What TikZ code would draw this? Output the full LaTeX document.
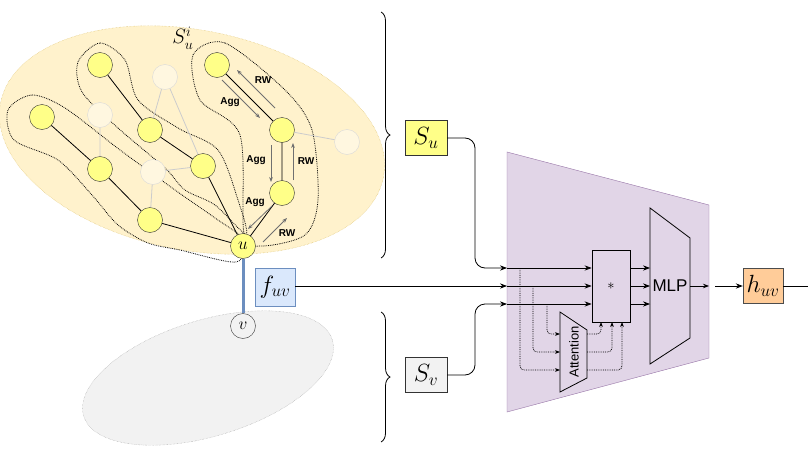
\documentclass[tikz,border=0pt]{standalone}
\usepackage{fontspec}
\setsansfont{Liberation Sans}
\usetikzlibrary{positioning,arrows.meta,decorations.pathreplacing}
\definecolor{egg}{HTML}{FFF2CC}
\definecolor{eggline}{HTML}{D6B656}
\definecolor{nodey}{HTML}{FFFF88}
\definecolor{blueb}{HTML}{DAE8FC}
\definecolor{bluel}{HTML}{6C8EBF}
\definecolor{lilac}{HTML}{E1D5E7}
\definecolor{lilacl}{HTML}{9673A6}
\definecolor{peach}{HTML}{FFCC99}
\definecolor{walk}{HTML}{707070}
\begin{document}
\begin{tikzpicture}[x=1pt,y=-1pt,
    font=\sffamily,
    gnode/.style={circle,draw=black!80,fill=nodey,minimum size=25pt,inner sep=0pt,font=\fontsize{18}{20}\selectfont},
    faint/.style={circle,draw=black!15,fill=egg!60!white,minimum size=25pt,inner sep=0pt},
    path/.style={draw,thick,black},
    ghost/.style={draw,black!20,thick},
    walk/.style={draw=walk,thick,-{Stealth[length=5pt]}},
    tag/.style={font=\sffamily\bfseries\fontsize{10}{12}\selectfont},
    hull/.style={draw,densely dotted,thick},
    box/.style={rectangle,draw=black!80,minimum width=42pt,minimum height=35pt,font=\fontsize{24}{26}\selectfont},
    flow/.style={draw,thick,-{Stealth[length=7pt]}},
    hint/.style={draw,densely dotted,thick,-{Stealth[length=5pt]},rounded corners=4pt}
  ]
  \useasboundingbox (0,0) rectangle (808,455);

  % sub-graph regions
  \fill[egg,draw=eggline,densely dotted,rotate around={-11:(192,140)}]
    (192,140) ellipse [x radius=195,y radius=110];
  \fill[black!5,draw=black!40,densely dotted,rotate around={17:(208,378)}]
    (208,378) ellipse [x radius=130,y radius=58];

  % walk hulls
  \draw[hull] plot[smooth cycle] coordinates {(193,55) (225,43) (285,90) (312,130) (318,200)
    (305,235) (262,246) (244,234) (240,135) (200,100)};
  \draw[hull] plot[smooth cycle] coordinates {(78,62) (100,43) (125,60) (138,100) (178,128)
    (218,150) (238,200) (246,234) (215,205) (185,190) (165,168) (118,128) (82,92)};
  \draw[hull] plot[smooth cycle] coordinates {(8,110) (32,95) (65,108) (120,150) (175,190)
    (215,218) (244,240) (236,262) (180,250) (148,243) (118,225) (92,195) (58,160) (14,140)};

  \node(f1) [faint] at (165,77) {};
  \node(f2) [faint] at (100,115) {};
  \node(f3) [faint] at (153,172) {};
  \node(f4) [faint] at (347,142) {};

  \node(a1) [gnode] at (100,65) {};
  \node(a2) [gnode] at (42,117) {};
  \node(a3) [gnode] at (100,169) {};
  \node(a4) [gnode] at (150,220) {};
  \node(a5) [gnode] at (150,130) {};
  \node(a6) [gnode] at (203,166) {};
  \node(a7) [gnode] at (217,65) {};
  \node(a8) [gnode] at (282,130) {};
  \node(a9) [gnode] at (282,193) {};
  \node(u) [gnode] at (243,246) {$u$};
  \node(v) [gnode,fill=black!5] at (243,326) {$v$};

  \draw[ghost] (f1) -- (a5) (f1) -- (a6) (f2) -- (a3) (f3) -- (a6) (f3) -- (a4) (a8) -- (f4);
  \draw[path] (a1) -- (a5) -- (a6) -- (u) (a2) -- (a3) -- (a4) -- (u) (a7) -- (a8) -- (a9) -- (u);
  \draw[bluel,line width=3pt] (u) -- (v);

  \node(si) [font=\fontsize{22}{24}\selectfont] at (183,38) {$S^i_u$};

  % random walk and aggregation
  \draw[walk] (275,108) -- (237,70);
  \draw[walk] (222,80) -- (260,118);
  \draw[walk] (271,145) -- (271,182);
  \draw[walk] (293,180) -- (293,143);
  \draw[walk] (272,206) -- (248,229);
  \draw[walk] (263,242) -- (287,218);
  \node(rw1) [tag] at (263,80) {RW};
  \node(ag1) [tag] at (230,102) {Agg};
  \node(ag2) [tag] at (256,160) {Agg};
  \node(rw2) [tag] at (306,161) {RW};
  \node(ag3) [tag] at (255,202) {Agg};
  \node(rw3) [tag] at (287,233) {RW};

  % braces
  \draw[thick,decorate,decoration={brace,amplitude=9pt}] (381,12) -- (381,258);
  \draw[thick,decorate,decoration={brace,amplitude=9pt}] (381,312) -- (381,442);

  \node(su) [box,fill=nodey] at (426,138) {$S_u$};
  \node(sv) [box,fill=black!5] at (426,375) {$S_v$};
  \node(fuv) [box,fill=blueb,draw=bluel,minimum width=40pt,minimum height=38pt] at (275,287) {$f_{uv}$};

  % model
  \draw[lilacl,fill=lilac] (507,152) -- (709,205) -- (709,358) -- (507,412) -- cycle;
  \node(mul) [draw,thick,minimum width=38pt,minimum height=72pt,font=\Large] at (611,286) {$*$};
  \draw[thick,fill=lilac] (650,208) -- (690,238) -- (690,338) -- (650,364) -- cycle;
  \node(mlp) [font=\sffamily\fontsize{17}{19}\selectfont] at (670,286) {MLP};
  \draw[thick,fill=lilac] (560,312) -- (587,330) -- (587,378) -- (560,392) -- cycle;
  \node(att) [rotate=90,font=\sffamily\fontsize{13}{15}\selectfont] at (574,352) {Attention};
  \node(huv) [box,fill=peach,draw=black!70,minimum width=40pt] at (763,286) {$h_{uv}$};

  \coordinate(in1) at (507,268);
  \coordinate(in2) at (507,286);
  \coordinate(in3) at (507,304);
  \draw[flow,rounded corners=10pt] (su.east) -| (475,268) -- (in1);
  \draw[flow] (fuv.east |- in2) -- (in2);
  \draw[flow,rounded corners=10pt] (sv.east) -| (475,304) -- (in3);
  \foreach \y in {268,286,304} {
    \draw[flow] (507,\y) -- (mul.west |- 0,\y);
    \draw[flow] (mul.east |- 0,\y) -- (650,\y);
  }
  \draw[hint] (520,268) |- (560,370);
  \draw[hint] (533,286) |- (560,352);
  \draw[hint] (547,304) |- (560,334);
  \draw[hint] (587,334) -| (601,322);
  \draw[hint] (587,352) -| (612,322);
  \draw[hint] (587,370) -| (622,322);
  \draw[thick,-{Stealth[length=6pt]}] (690,286) -- (709,286);
  \draw[flow] (715,286) -- (huv.west);
  \draw[thick] (huv.east) -- (808,286);
\end{tikzpicture}
\end{document}
